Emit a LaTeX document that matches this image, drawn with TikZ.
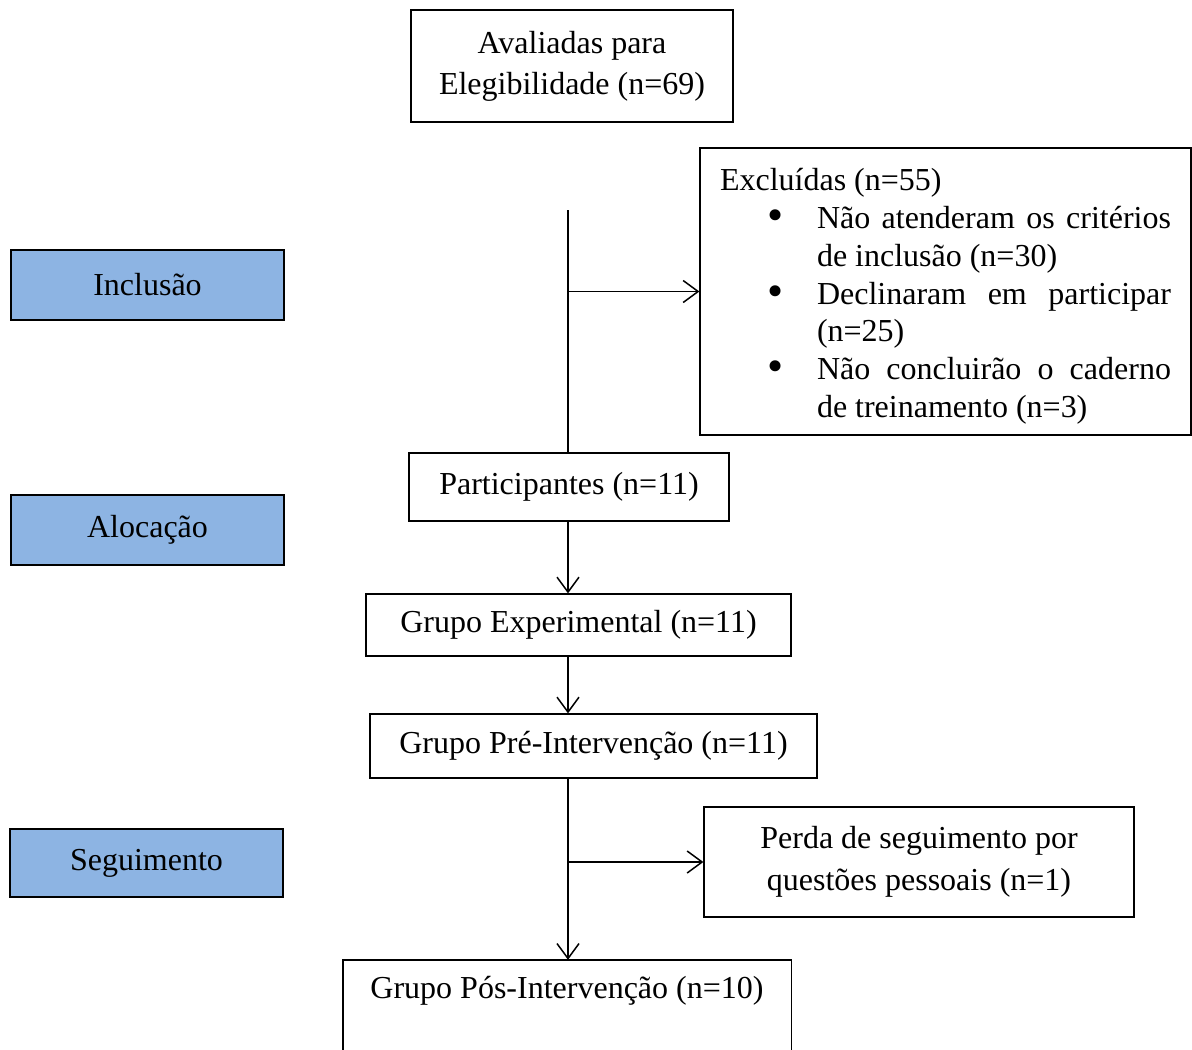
\documentclass[tikz,border=0pt]{standalone}
\usepackage{fontspec}
\setmainfont{Liberation Serif}
\usetikzlibrary{arrows.meta}
\definecolor{phasecol}{RGB}{141,180,227}
\newcommand{\bitem}[1]{\par\leftskip=97pt\noindent\llap{\raisebox{-2pt}{\fontsize{46}{46}\selectfont\textbullet}\hspace{33pt}}#1\par}
\begin{document}
\begin{tikzpicture}[x=1pt,y=-1pt]
\tikzset{
  box/.style={draw, line width=1.2pt, inner sep=0pt, align=center, font=\fontsize{32}{38}\selectfont},
  phase/.style={box, fill=phasecol},
  arr/.style={line width=1.5pt, -{Straight Barb[length=15pt,width=22pt,line width=1.5pt]}},
  spine/.style={line width=1.5pt}
}
\useasboundingbox (0,0) rectangle (1192,1050);

\node[box, line width=2.5pt, minimum width=322pt, minimum height=112pt, font=\fontsize{32}{41}\selectfont] (eleg) at (572,66) {Avaliadas para\\Elegibilidade (n=69)};

\node[box, minimum height=287pt, text width=451pt, inner xsep=20pt, inner ysep=0pt, align=justify, font=\fontsize{32}{37.7}\selectfont] (excl) at (945.5,291.5)
{\parindent=0pt\tolerance=10000\hbadness=10000\hyphenpenalty=10000\exhyphenpenalty=10000
\noindent\rule{0pt}{32pt}Excluídas (n=55)\par
\bitem{Não atenderam os critérios\linebreak de inclusão (n=30)}
\bitem{Declinaram em participar\linebreak (n=25)}
\bitem{Não concluirão o caderno\linebreak de treinamento (n=3)}};

\node[phase, minimum width=273pt, minimum height=70pt] (incl) at (147.5,285) {Inclusão};
\node[phase, minimum width=273pt, minimum height=70pt] (aloc) at (147.5,530) {Alocação};
\node[phase, minimum width=273pt, minimum height=68pt] (seg) at (146.5,863) {Seguimento};

\node[box, minimum width=320pt, minimum height=68pt] (part) at (569,487) {Participantes (n=11)};
\node[box, minimum width=425pt, minimum height=62pt] (exp) at (578.5,625) {Grupo Experimental (n=11)};
\node[box, minimum width=447pt, minimum height=64pt] (pre) at (593.5,746) {Grupo Pré-Intervenção (n=11)};
\node[box, minimum width=430pt, minimum height=110pt, font=\fontsize{32}{42}\selectfont] (perda) at (919,862) {Perda de seguimento por\\questões pessoais (n=1)};

\node[inner sep=0pt, minimum width=448pt, minimum height=62pt, font=\fontsize{32}{38}\selectfont] (pos) at (567,991) {Grupo Pós-Intervenção (n=10)};
\draw[line width=1.4pt] ([yshift=-120pt]pos.north west) -- (pos.north west) -- (pos.north east) -- ([yshift=-120pt]pos.north east);

\coordinate (vtop) at (568,210);
\draw[spine] (vtop) -- (vtop |- part.north);
\draw[arr] (vtop |- excl.west) -- (excl.west);
\draw[arr] (vtop |- part.south) -- (vtop |- exp.north);
\draw[arr] (vtop |- exp.south) -- (vtop |- pre.north);
\draw[arr] (vtop |- pre.south) -- (vtop |- pos.north);
\draw[arr] (vtop |- perda.west) -- (perda.west);
\end{tikzpicture}
\end{document}
